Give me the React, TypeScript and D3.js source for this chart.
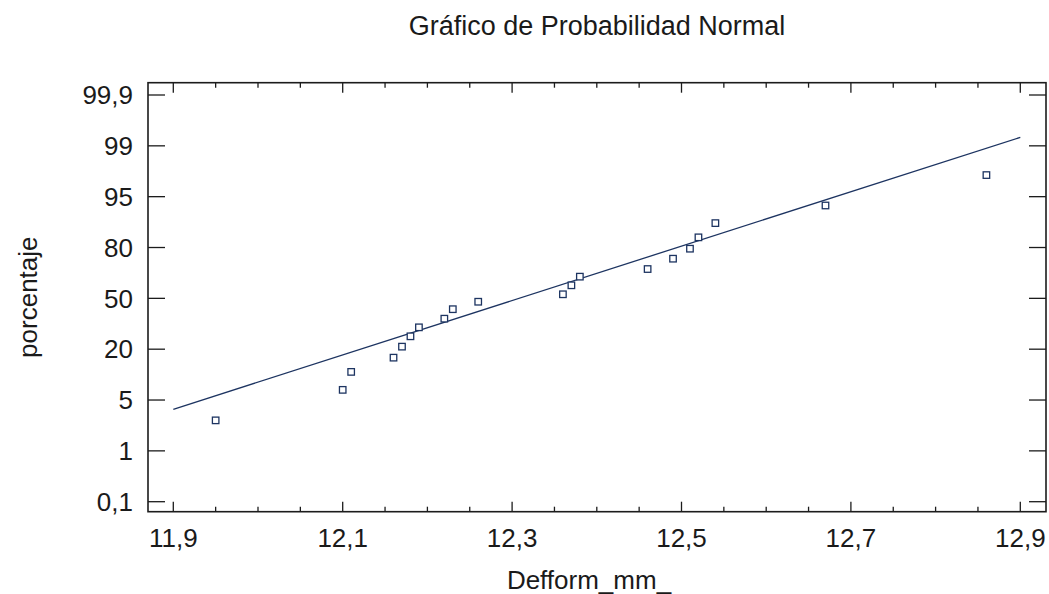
import React from "react";
import * as d3 from "d3";

// ---- data ----
const title = "Gráfico de Probabilidad Normal";
const xLabel = "Defform_mm_";
const yLabel = "porcentaje";

const xDomain = [11.9, 12.9];
const xTickValues = [11.9, 12.1, 12.3, 12.5, 12.7, 12.9];
const yTickValues = [0.1, 1, 5, 20, 50, 80, 95, 99, 99.9];
const yTickLabels = ["0,1", "1", "5", "20", "50", "80", "95", "99", "99,9"];

const defform = [
  11.95, 12.1, 12.11, 12.16, 12.17, 12.18, 12.19, 12.22, 12.23, 12.26,
  12.36, 12.37, 12.38, 12.46, 12.49, 12.51, 12.52, 12.54, 12.67, 12.86,
];
const porcentaje = [
  3.4, 8.0, 13.3, 17.5, 21.5, 27.6, 32.9, 38.0, 43.6, 48.0,
  52.4, 57.7, 62.8, 67.3, 73.4, 79.3, 83.0, 87.2, 92.4, 96.7,
];

// fitted reference line endpoints
const fitX = [11.9, 12.9];
const fitY = [4.27, 99.15];

// ---- layout ----
const W = 1049;
const H = 594;
const frame = { left: 148, right: 1046, top: 82.7, bottom: 511.7 };
const xRange = [173.3, 1020.3];
const yRange = [501.7, 95];

const FONT = "'Liberation Sans', Arial, Helvetica, sans-serif";
const TEXT = "#1a1a1a";
const AXIS = "#1c1c1c";
const MARK = "#1d3461";

const fmtComma = (v: number) => d3.format(".1f")(v).replace(".", ",");

export default function App() {
  const x = d3.scaleLinear().domain(xDomain).range(xRange);
  const step = (yRange[1] - yRange[0]) / (yTickValues.length - 1);
  const y = d3
    .scaleLinear()
    .domain(yTickValues)
    .range(yTickValues.map((_, i) => yRange[0] + i * step));

  const minorX = x.ticks(20);
  const isMajor = (v: number) =>
    xTickValues.some((t) => Math.abs(t - v) < 1e-6);

  const fitLine = d3
    .line<number>()
    .x((_, i) => x(fitX[i]))
    .y((d) => y(d));

  const sq = 6.5;

  return (
    <svg
      width={W}
      height={H}
      style={{ position: "absolute", left: 0, top: 0, background: "#fff" }}
      fontFamily={FONT}
    >
      <rect width={W} height={H} fill="#fff" />
      {/* title */}
      <text x={597} y={35} textAnchor="middle" fontSize={27} fill={TEXT}>
        {title}
      </text>

      {/* frame */}
      <rect
        x={frame.left}
        y={frame.top}
        width={frame.right - frame.left}
        height={frame.bottom - frame.top}
        fill="none"
        stroke={AXIS}
        strokeWidth={1.6}
      />

      {/* x ticks top & bottom */}
      {minorX.map((v, i) => {
        const len = isMajor(v) ? 10 : 5;
        const px = x(v);
        return (
          <g key={"xt" + i} stroke={AXIS} strokeWidth={1.3}>
            <line x1={px} x2={px} y1={frame.bottom} y2={frame.bottom - len} />
            <line x1={px} x2={px} y1={frame.top} y2={frame.top + len} />
          </g>
        );
      })}

      {/* x tick labels */}
      {xTickValues.map((v, i) => (
        <text
          key={"xl" + i}
          x={x(v)}
          y={547}
          textAnchor="middle"
          fontSize={26}
          fill={TEXT}
        >
          {fmtComma(v)}
        </text>
      ))}

      {/* y ticks left & right */}
      {yTickValues.map((v, i) => {
        const py = y(v);
        return (
          <g key={"yt" + i} stroke={AXIS} strokeWidth={1.3}>
            <line x1={frame.left} x2={frame.left + 17} y1={py} y2={py} />
            <line x1={frame.right} x2={frame.right - 17} y1={py} y2={py} />
          </g>
        );
      })}

      {/* y tick labels */}
      {yTickValues.map((v, i) => (
        <text
          key={"yl" + i}
          x={133}
          y={y(v) + 9.3}
          textAnchor="end"
          fontSize={26}
          fill={TEXT}
        >
          {yTickLabels[i]}
        </text>
      ))}

      {/* axis titles */}
      <text x={589} y={589} textAnchor="middle" fontSize={26} fill={TEXT}>
        {xLabel}
      </text>
      <text
        transform={`translate(37,${(frame.top + frame.bottom) / 2}) rotate(-90)`}
        textAnchor="middle"
        fontSize={26}
        fill={TEXT}
      >
        {yLabel}
      </text>

      {/* fitted line */}
      <path d={fitLine(fitY) || ""} fill="none" stroke={MARK} strokeWidth={1.3} />

      {/* points */}
      {defform.map((v, i) => (
        <rect
          key={"p" + i}
          x={x(v) - sq / 2}
          y={y(porcentaje[i]) - sq / 2}
          width={sq}
          height={sq}
          fill="#fff"
          stroke={MARK}
          strokeWidth={1.3}
        />
      ))}
    </svg>
  );
}
